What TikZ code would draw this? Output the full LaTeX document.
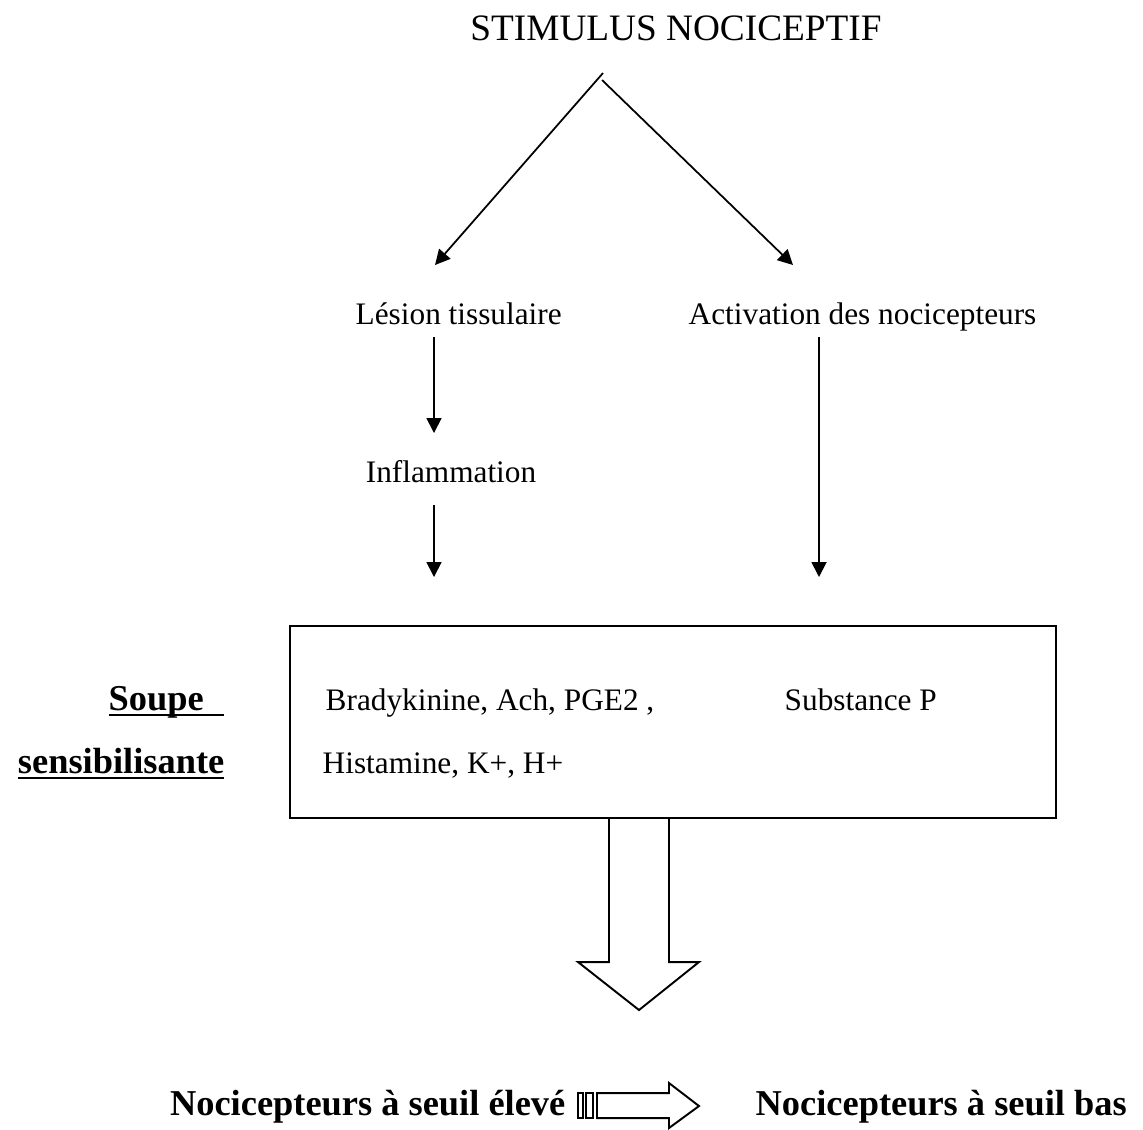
\documentclass[tikz,border=0pt]{standalone}
\usepackage{fontspec}
\setmainfont{Liberation Serif}
\usetikzlibrary{positioning,arrows.meta}
\tikzset{
  flowarrow/.style={-{Triangle[length=1.5mm,width=1.5mm]}, line width=0.5pt},
  plaintxt/.style={font=\fontsize{8.9}{11}\selectfont, inner sep=0pt},
  bigtxt/.style={font=\fontsize{10.6}{13}\selectfont, inner sep=0pt},
  boldtxt/.style={font=\fontsize{10.35}{13}\selectfont\bfseries, inner sep=0pt},
  soupbox/.style={draw, line width=0.6pt, minimum width=7.66cm, minimum height=1.92cm, inner sep=0pt},
  hollow/.style={draw, line width=0.55pt, line join=miter}
}
\begin{document}
\begin{tikzpicture}[x=0.01cm, y=-0.01cm]
  \useasboundingbox (0,0) rectangle (1143,1129);
  % top of the tree
  \node[bigtxt, anchor=base] (stim) at (676,40) {STIMULUS NOCICEPTIF};
  \node[plaintxt, anchor=base west] (lesion) at (355,324) {Lésion tissulaire};
  \node[plaintxt, anchor=base west] (activ) at (688,324) {Activation des nocicepteurs};
  \node[plaintxt, anchor=base] (inflam) at (451,482) {Inflammation};
  \coordinate (apexl) at (603,73);
  \coordinate (apexr) at (602,80);
  \coordinate (lesin) at (435,265);
  \coordinate (actin) at (793,265);
  \draw[flowarrow] (apexl) -- (lesin);
  \draw[flowarrow] (apexr) -- (actin);
  \coordinate (lesout) at (434,337);
  \coordinate (infin) at (434,433);
  \coordinate (infout) at (434,505);
  \coordinate (boxinl) at (434,577);
  \coordinate (actout) at (819,337);
  \coordinate (boxinr) at (819,577);
  \draw[flowarrow] (lesout) -- (infin);
  \draw[flowarrow] (infout) -- (boxinl);
  \draw[flowarrow] (actout) -- (boxinr);
  % the soup
  \node[soupbox] (soup) at (673,722) {};
  \node[plaintxt, anchor=base west] (brady) at (325,710) {Bradykinine, Ach, PGE2 ,};
  \node[plaintxt, anchor=base west] (subst) at (784,710) {Substance P};
  \node[plaintxt, anchor=base west] (hista) at (322,773) {Histamine, K+, H+};
  \node[boldtxt, anchor=base west] (soupe) at (108,710) {\underline{\smash{Soupe\hspace{0.55em}}}};
  \node[boldtxt, anchor=base east] (sensib) at (225,773) {\underline{\smash{sensibilisante}}};
  % big hollow arrow
  \draw[hollow] (609,818) -- (609,962) -- (578,962) -- (639,1010) -- (699,962) -- (669,962) -- (669,818);
  % threshold shift
  \node[boldtxt, anchor=base east] (high) at (566,1115) {Nocicepteurs à seuil élevé};
  \node[boldtxt, anchor=base west] (low) at (755,1115) {Nocicepteurs à seuil bas};
  \draw[hollow] (578,1093) rectangle (583,1118);
  \draw[hollow] (586,1093) rectangle (593,1118);
  \draw[hollow] (597,1093) -- (669,1093) -- (669,1083) -- (699,1106) -- (669,1128) -- (669,1118) -- (597,1118) -- cycle;
\end{tikzpicture}
\end{document}
